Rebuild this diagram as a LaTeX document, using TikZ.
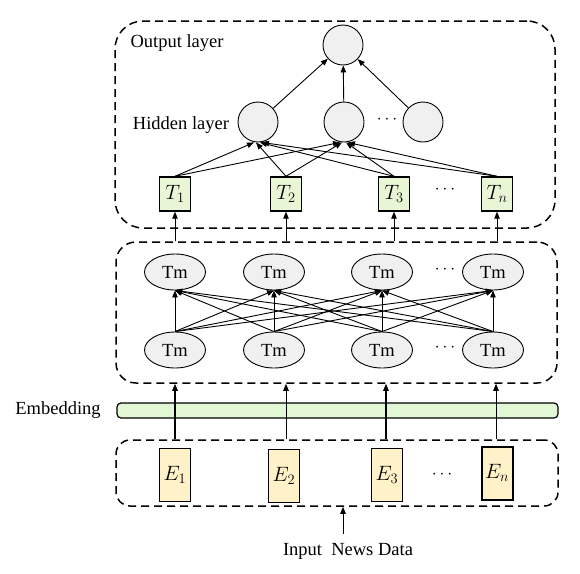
\documentclass[tikz,border=0pt]{standalone}
\usepackage{fontspec}
\setmainfont{Liberation Serif}
\usetikzlibrary{arrows.meta,shapes.geometric}
\definecolor{grayfill}{RGB}{240,240,240}
\definecolor{tgreen}{RGB}{232,246,214}
\definecolor{embgreen}{RGB}{226,248,212}
\definecolor{eyellow}{RGB}{255,242,200}
\begin{document}
\begin{tikzpicture}[x=1pt,y=-1pt,
  lbl/.style={font=\fontsize{18.5}{20}\selectfont,inner sep=0},
  neuron/.style={circle,draw,line width=0.9pt,fill=grayfill,minimum size=40pt,inner sep=0},
  tmnode/.style={ellipse,draw,line width=0.9pt,fill=grayfill,minimum width=61pt,minimum height=36pt,inner sep=0,font=\fontsize{18.5}{20}\selectfont},
  tbox/.style={rectangle,draw,line width=1.4pt,fill=tgreen,minimum width=31pt,minimum height=34pt,inner sep=0,font=\fontsize{21}{22}\selectfont},
  ebox/.style={rectangle,draw,line width=1.2pt,fill=eyellow,minimum width=31pt,minimum height=53pt,inner sep=0,font=\fontsize{21}{22}\selectfont},
  groupbox/.style={draw,line width=1.5pt,dash pattern=on 8pt off 5pt,inner sep=0},
  conn/.style={-{Triangle[length=7pt,width=5.5pt]},line width=0.9pt},
  dotsl/.style={font=\fontsize{16}{20}\selectfont,inner sep=0}
]
\useasboundingbox (0,0) rectangle (580,573);

% group boxes
\node[groupbox,rounded corners=28pt,minimum width=440pt,minimum height=207pt] (top) at (335,124.5) {};
\node[groupbox,rounded corners=20pt,minimum width=441pt,minimum height=141pt] (mid) at (336.5,312.5) {};
\node[groupbox,rounded corners=14pt,minimum width=442pt,minimum height=66pt] (bot) at (337,473) {};
\node[draw,line width=1.2pt,fill=embgreen,rounded corners=4pt,minimum width=441pt,minimum height=15pt,inner sep=0] (emb) at (337.5,410.5) {};

% labels
\node[lbl] (lout) at (177,43) {Output layer};
\node[lbl] (lhid) at (181,125) {Hidden layer};
\node[lbl] (lemb) at (58,410) {Embedding};
\node[lbl] (lin) at (348,551) {Input~~News Data};

% output and hidden
\node[neuron] (O) at (343,45) {};
\node[neuron] (H1) at (258,122) {};
\node[neuron] (H2) at (344,122) {};
\node[neuron] (H3) at (423,122) {};
\node[dotsl] (hd) at (387,120) {$\cdots$};

% T boxes
\node[tbox] (T1) at (175,194) {$T_1$};
\node[tbox] (T2) at (286,194) {$T_2$};
\node[tbox] (T3) at (394,194) {$T_3$};
\node[tbox] (Tn) at (497,194) {$T_n$};
\node[dotsl] (td) at (445,190) {$\cdots$};

% Tm nodes
\node[tmnode] (A1) at (175,272) {Tm};
\node[tmnode] (A2) at (274,272) {Tm};
\node[tmnode] (A3) at (382,272) {Tm};
\node[tmnode] (A4) at (493,272) {Tm};
\node[tmnode] (B1) at (175,350) {Tm};
\node[tmnode] (B2) at (274,350) {Tm};
\node[tmnode] (B3) at (382,350) {Tm};
\node[tmnode] (B4) at (493,350) {Tm};
\node[dotsl] (ad) at (445,270) {$\cdots$};
\node[dotsl] (bd) at (445,348) {$\cdots$};

% E boxes
\node[ebox] (E1) at (175,475) {$E_1$};
\node[ebox] (E2) at (284,476) {$E_2$};
\node[ebox] (E3) at (387,475) {$E_3$};
\node[ebox,line width=2pt] (En) at (497,473) {$E_n$};
\node[dotsl] (ed) at (442,475) {$\cdots$};

% hidden -> output
\draw[conn] (H1) -- (O);
\draw[conn] (H2) -- (O);
\draw[conn] (H3) -- (O);
% T -> hidden
\foreach \t/\d in {T1/-4,T2/-2,T3/2,Tn/4} {
  \draw[conn] (\t.north) -- ([xshift=\d pt]H1.south);
  \draw[conn] (\t.north) -- ([xshift=\d pt]H2.south);
}
% mid box -> T
\foreach \t in {T1,T2,T3,Tn} \draw[conn] (\t.south |- mid.north) -- (\t.south);
% Tm bottom -> top
\foreach \b in {B1,B2,B3,B4} {
  \foreach \a in {A1,A2,A3,A4} \draw[conn] (\b.north) -- (\a.south);
}
% E -> mid box through embedding
\draw[conn,line width=1.3pt] (E1 |- bot.north) -- (E1 |- mid.south);
\draw[conn,line width=0.8pt] ([xshift=2pt]E2.north |- bot.north) -- ([xshift=2pt]E2.north |- mid.south);
\draw[conn,line width=1.3pt] ([xshift=-1pt]E3.north |- bot.north) -- ([xshift=-1pt]E3.north |- mid.south);
\draw[conn,line width=0.9pt] ([xshift=-1pt]En.north |- bot.north) -- ([xshift=-1pt]En.north |- mid.south);
% input
\coordinate (inp) at (343,534);
\draw[conn] (inp) -- (inp |- bot.south);
\end{tikzpicture}
\end{document}
